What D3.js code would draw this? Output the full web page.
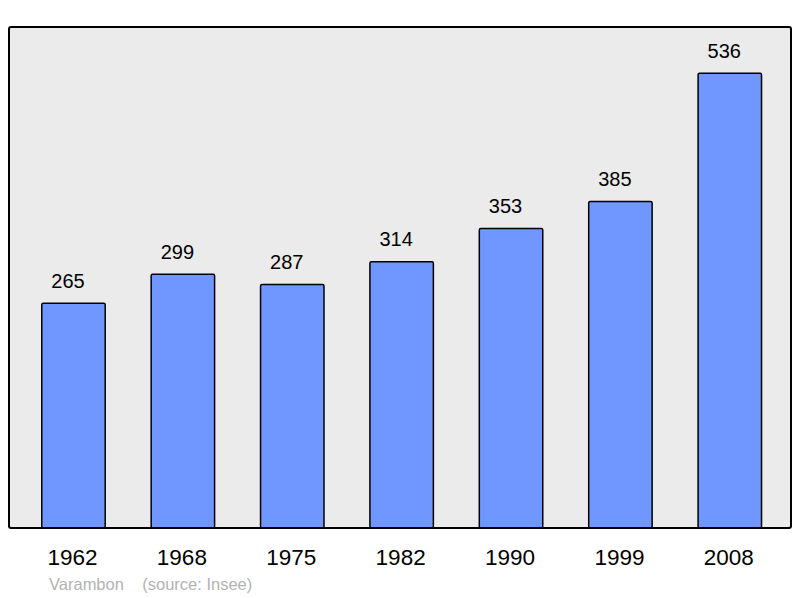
<!DOCTYPE html>
<html>
<head>
<meta charset="UTF-8" />
<script src="https://d3js.org/d3.v7.min.js"></script>
<style>
  html, body { margin: 0; padding: 0; background: #fff; }
  svg { display: block; font-family: "Liberation Sans", Arial, sans-serif; }
</style>
</head>
<body>
<svg width="800" height="598"></svg>
<script>
  const years = ["1962", "1968", "1975", "1982", "1990", "1999", "2008"];
  const population = [265, 299, 287, 314, 353, 385, 536];
  const commune = "Varambon";
  const source = "(source: Insee)";

  const svg = d3.select("svg");
  const frame = { left: 9, top: 27, right: 791, bottom: 528 };

  const x = d3.scaleBand()
    .domain(years)
    .range([18.8, 784.5])
    .paddingInner(0.42)
    .paddingOuter(0.21);

  const y = d3.scaleLinear()
    .domain([0, 590.6])
    .range([frame.bottom, frame.top]);

  svg.append("rect")
    .attr("x", frame.left)
    .attr("y", frame.top)
    .attr("width", frame.right - frame.left)
    .attr("height", frame.bottom - frame.top)
    .attr("rx", 2)
    .attr("fill", "#ebebeb");

  const data = years.map((yr, i) => ({ year: yr, value: population[i] }));

  svg.selectAll("rect.bar")
    .data(data)
    .enter()
    .append("rect")
    .attr("class", "bar")
    .attr("x", d => x(d.year))
    .attr("y", d => y(d.value))
    .attr("width", x.bandwidth())
    .attr("height", d => y(0) - y(d.value))
    .attr("rx", 1.5)
    .attr("fill", "#7097ff")
    .attr("stroke", "#000")
    .attr("stroke-width", 1.5);

  // frame on top of bars
  svg.append("rect")
    .attr("x", frame.left)
    .attr("y", frame.top)
    .attr("width", frame.right - frame.left)
    .attr("height", frame.bottom - frame.top)
    .attr("rx", 2)
    .attr("fill", "none")
    .attr("stroke", "#000")
    .attr("stroke-width", 2);

  // value labels sit a little left of the bar centre
  svg.selectAll("text.value")
    .data(data)
    .enter()
    .append("text")
    .attr("class", "value")
    .attr("x", d => x(d.year) + x.bandwidth() / 2 - 5.5)
    .attr("y", d => y(d.value) - 15.5)
    .attr("text-anchor", "middle")
    .attr("font-size", 20)
    .attr("fill", "#000")
    .text(d => d.value);

  svg.selectAll("text.year")
    .data(data)
    .enter()
    .append("text")
    .attr("class", "year")
    .attr("x", d => x(d.year) + x.bandwidth() / 2 - 1)
    .attr("y", 565)
    .attr("text-anchor", "middle")
    .attr("font-size", 22.5)
    .attr("fill", "#000")
    .text(d => d.year);

  svg.append("text")
    .attr("x", 49)
    .attr("y", 590)
    .attr("font-size", 16.5)
    .attr("fill", "#b3b3b3")
    .attr("xml:space", "preserve")
    .text(commune + "    " + source);
</script>
</body>
</html>
